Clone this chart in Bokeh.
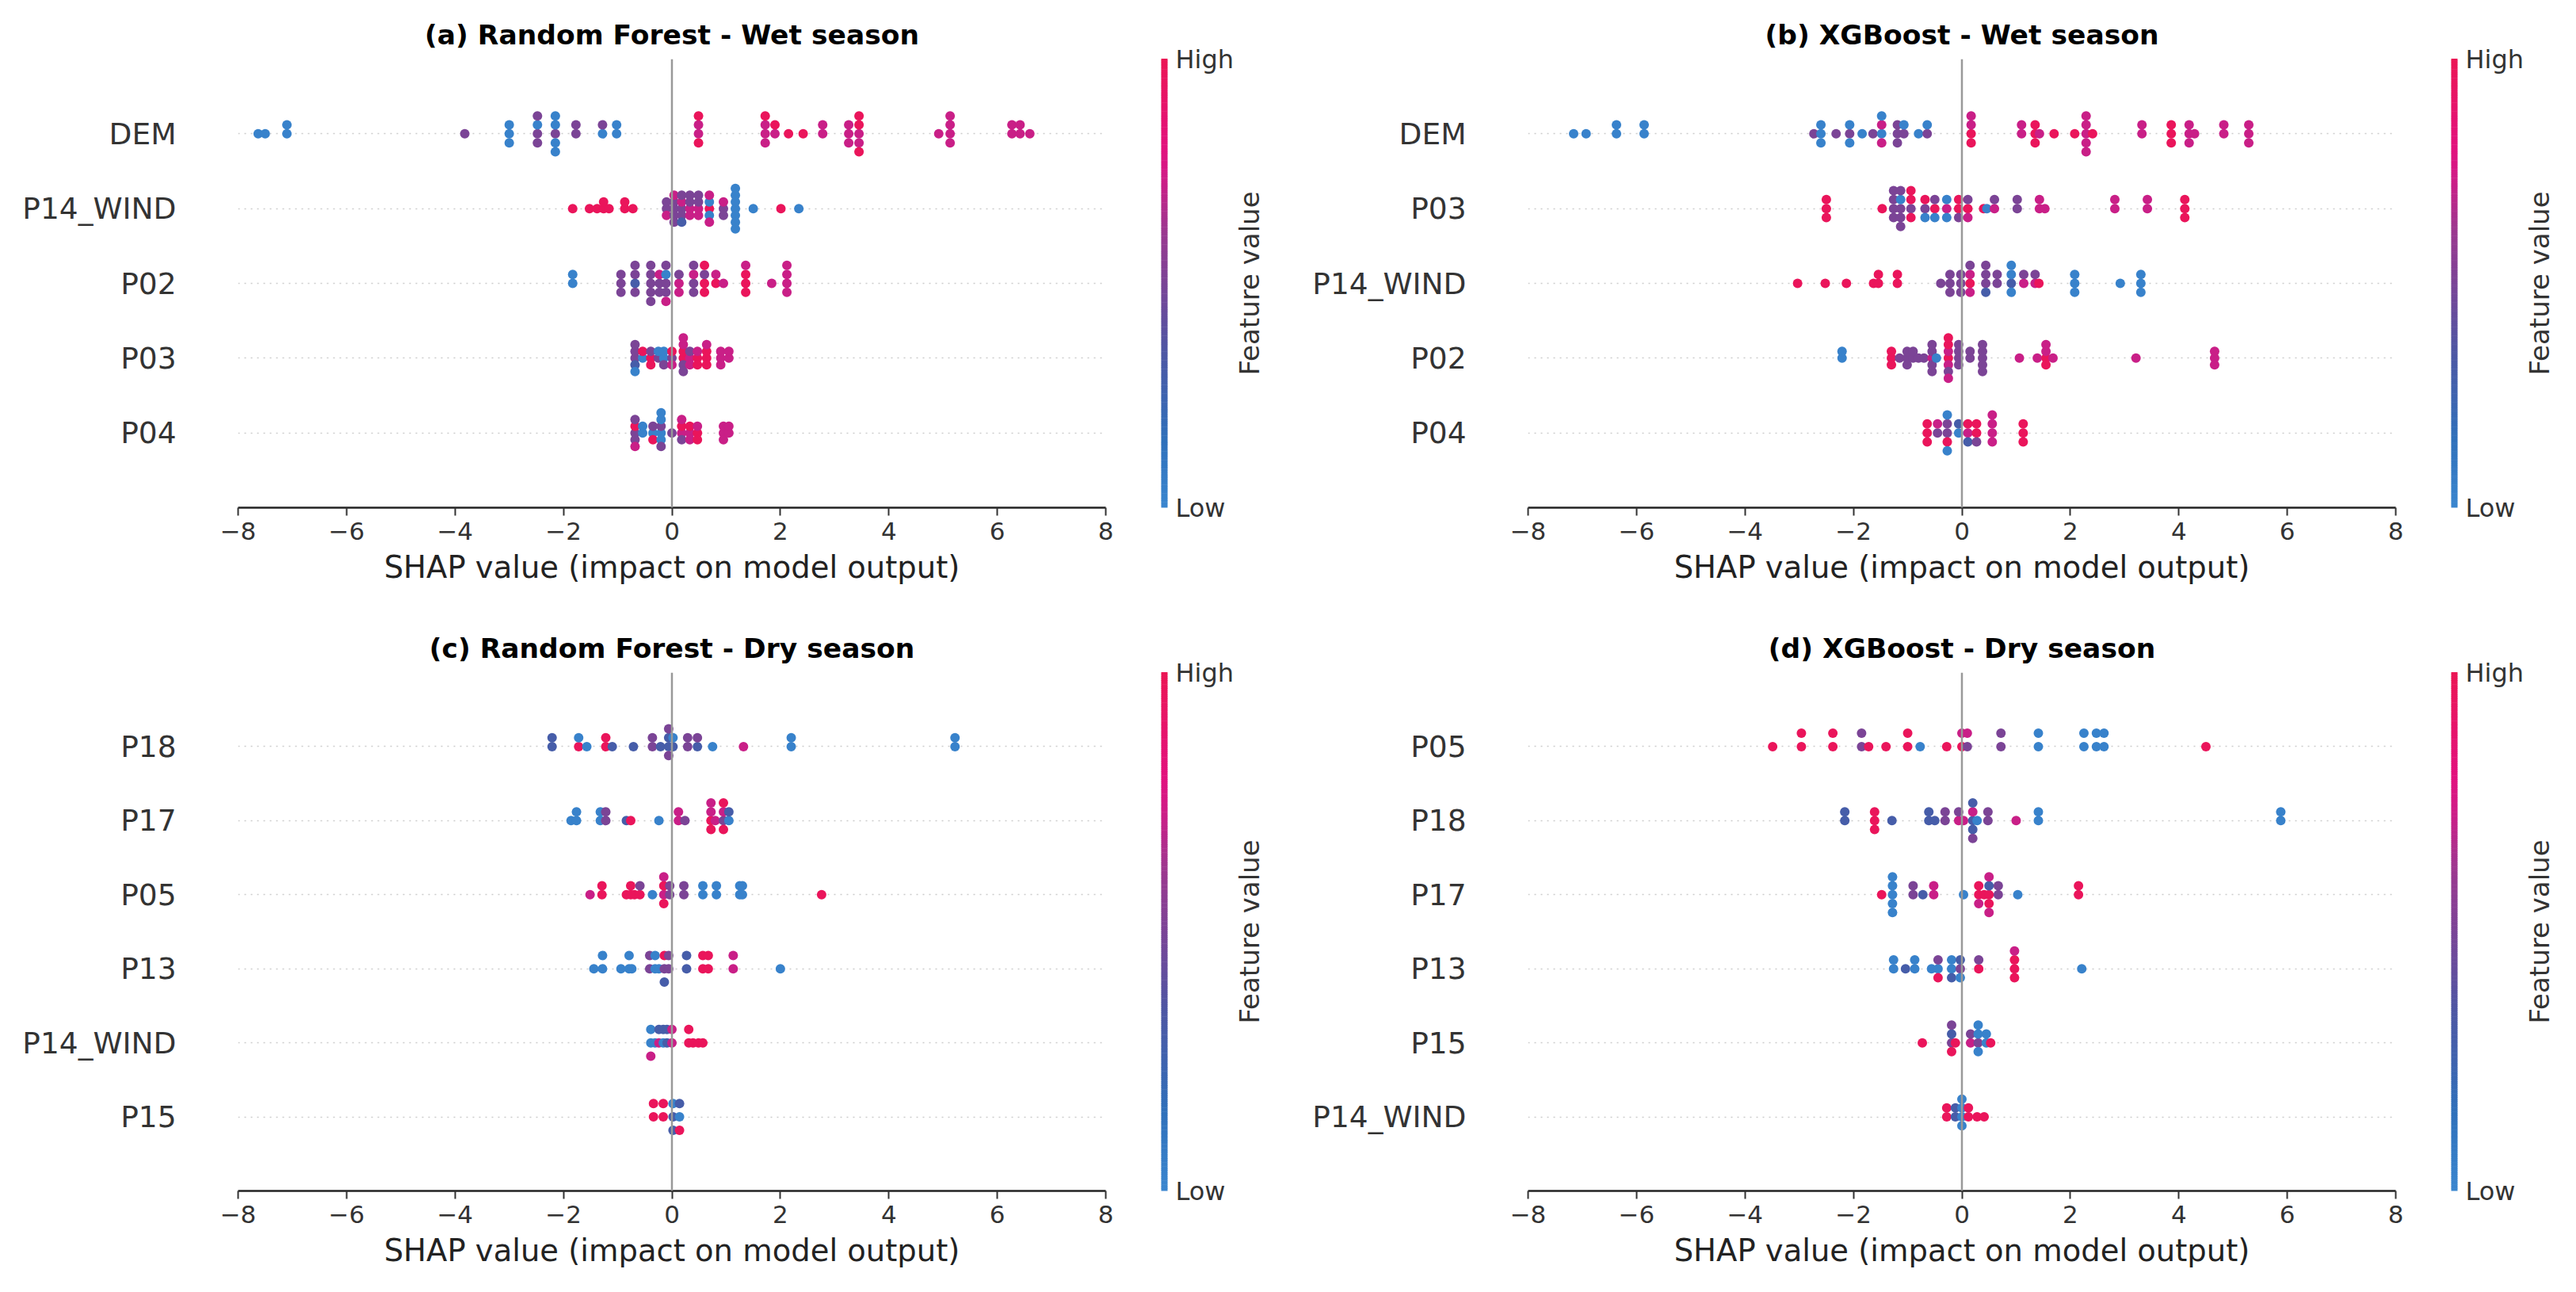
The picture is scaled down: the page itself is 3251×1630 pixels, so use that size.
import math

import numpy as np
from bokeh.core.properties import value
from bokeh.embed import file_html
from bokeh.layouts import column, row
from bokeh.models import ColumnDataSource, FixedTicker, Range1d, Span
from bokeh.plotting import figure
from bokeh.resources import INLINE
from bokeh.transform import linear_cmap

# Normalised feature level (0 = low, 1 = high) for each letter code.
LEVELS = {"B": 0.03, "b": 0.30, "P": 0.50, "M": 0.72, "R": 0.97}

# Each entry: (SHAP value, feature levels of the samples sharing that value).
# ---- (a) Random Forest, wet season ----
RF_WET_FEATURES = ["DEM", "P14_WIND", "P02", "P03", "P04"]
RF_WET_DEM = [(-7.63, "B"), (-7.50, "B"), (-7.10, "BB"), (-3.82, "P"), (-3.00, "BBB"),
              (-2.48, "PBPP"), (-2.15, "PBBBB"), (-1.77, "PP"), (-1.28, "BP"), (-1.02, "BB"),
              (0.49, "MMRR"), (1.72, "MMMR"), (1.90, "MR"), (2.15, "R"), (2.42, "R"),
              (2.78, "MM"), (3.26, "MMM"), (3.45, "MRMRR"), (4.92, "M"), (5.13, "MMMM"),
              (6.27, "MM"), (6.42, "MM"), (6.60, "M")]
RF_WET_P14_WIND = [(-1.83, "R"), (-1.52, "R"), (-1.38, "R"), (-1.26, "RR"), (-1.16, "R"),
                   (-0.87, "RR"), (-0.72, "R"), (-0.10, "PPM"), (0.04, "PPPMP"), (0.18, "PMPPb"),
                   (0.33, "MPMP"), (0.49, "MPMP"), (0.69, "RBBMM"), (0.95, "PMP"),
                   (1.17, "BBBBBBB"), (1.50, "B"), (2.01, "R"), (2.34, "B")]
RF_WET_P02 = [(-1.83, "BB"), (-0.94, "PPP"), (-0.68, "bPPP"), (-0.39, "PPPPP"), (-0.23, "PMP"),
              (-0.11, "PBPPM"), (0.13, "MPM"), (0.40, "PMPP"), (0.60, "RPRR"), (0.81, "RM"),
              (0.95, "M"), (1.36, "RRRM"), (1.84, "M"), (2.12, "MMMM")]
RF_WET_P03 = [(-0.68, "PPbPB"), (-0.54, "BR"), (-0.39, "RPR"), (-0.25, "PB"), (-0.15, "BBP"),
              (0.00, "PRM"), (0.21, "RRPMPM"), (0.33, "MPM"), (0.47, "RMR"), (0.64, "RRRM"),
              (0.90, "MMM"), (1.05, "MM")]
RF_WET_P04 = [(-0.68, "PRPPM"), (-0.54, "BB"), (-0.35, "BPR"), (-0.20, "BPBBPB"), (0.00, "P"),
              (0.18, "MRPM"), (0.33, "MRM"), (0.47, "RMR"), (0.95, "MMM"), (1.05, "MM")]

# ---- (b) XGBoost, wet season ----
XGB_WET_FEATURES = ["DEM", "P03", "P14_WIND", "P02", "P04"]
XGB_WET_DEM = [(-7.16, "B"), (-6.93, "B"), (-6.37, "BB"), (-5.86, "BB"), (-2.73, "P"),
               (-2.60, "BBB"), (-2.32, "P"), (-2.07, "PBB"), (-1.84, "B"), (-1.64, "P"),
               (-1.48, "BMMB"), (-1.19, "PPP"), (-1.07, "PB"), (-0.80, "B"), (-0.64, "PB"),
               (0.17, "RMRM"), (1.10, "MM"), (1.35, "RRR"), (1.43, "M"), (1.70, "R"),
               (2.08, "R"), (2.29, "MMMMM"), (2.41, "R"), (3.32, "MM"), (3.86, "RRR"),
               (4.19, "MMM"), (4.29, "M"), (4.83, "MM"), (5.29, "MMM")]
XGB_WET_P03 = [(-2.50, "RRR"), (-1.47, "R"), (-1.26, "PPPP"), (-1.13, "PBPPP"), (-0.94, "PRRR"),
               (-0.68, "PRB"), (-0.50, "RPB"), (-0.28, "MBB"), (-0.06, "RRP"), (0.11, "RPM"),
               (0.40, "R"), (0.46, "B"), (0.60, "MP"), (1.02, "PP"), (1.43, "MM"), (1.53, "M"),
               (2.82, "MM"), (3.42, "MM"), (4.11, "RRR")]
XGB_WET_P14_WIND = [(-3.03, "R"), (-2.52, "R"), (-2.13, "R"), (-1.63, "R"), (-1.54, "RR"),
                    (-1.19, "RR"), (-0.39, "P"), (-0.22, "PPP"), (-0.02, "PPP"), (0.15, "RMMP"),
                    (0.44, "PPbP"), (0.65, "PP"), (0.91, "bBBB"), (1.14, "MP"), (1.35, "MP"),
                    (1.42, "R"), (2.08, "BBB"), (2.92, "B"), (3.30, "BBB")]
XGB_WET_P02 = [(-2.21, "BB"), (-1.30, "RRR"), (-1.15, "P"), (-1.01, "PPP"), (-0.90, "PP"),
               (-0.80, "P"), (-0.70, "P"), (-0.55, "MPPPP"), (-0.47, "B"), (-0.25, "RMMRPRM"),
               (-0.06, "PPPP"), (0.15, "PP"), (0.38, "PPPPP"), (1.06, "M"), (1.39, "M"),
               (1.55, "RMRM"), (1.68, "M"), (3.21, "M"), (4.66, "MMM")]
XGB_WET_P04 = [(-0.64, "RRR"), (-0.45, "PM"), (-0.27, "PPRBB"), (-0.06, "Bb"), (0.11, "MRb"),
               (0.27, "RRP"), (0.56, "MMMM"), (1.13, "RRR")]

# ---- (c) Random Forest, dry season ----
RF_DRY_FEATURES = ["P18", "P17", "P05", "P13", "P14_WIND", "P15"]
RF_DRY_P18 = [(-2.21, "bb"), (-1.72, "RB"), (-1.57, "B"), (-1.22, "RR"), (-1.10, "b"),
              (-0.71, "b"), (-0.36, "PP"), (-0.21, "b"), (-0.06, "bbPP"), (0.02, "bB"),
              (0.29, "PP"), (0.47, "bP"), (0.75, "B"), (1.32, "M"), (2.20, "BB"), (5.22, "BB")]
RF_DRY_P17 = [(-1.86, "B"), (-1.76, "BB"), (-1.32, "BB"), (-1.22, "PP"), (-0.84, "b"),
              (-0.76, "R"), (-0.24, "B"), (0.12, "MM"), (0.24, "P"), (0.72, "RMRM"),
              (0.80, "M"), (0.95, "PMRR"), (1.05, "Bb")]
RF_DRY_P05 = [(-1.51, "M"), (-1.29, "RR"), (-0.84, "R"), (-0.76, "RR"), (-0.69, "R"),
              (-0.59, "RP"), (-0.36, "B"), (-0.15, "MRRM"), (-0.04, "PP"), (0.22, "PP"),
              (0.57, "BB"), (0.82, "BB"), (1.25, "BB"), (1.30, "BB"), (2.76, "R")]
RF_DRY_P13 = [(-1.44, "B"), (-1.28, "BB"), (-0.94, "B"), (-0.79, "BB"), (-0.74, "B"),
              (-0.41, "PP"), (-0.31, "BB"), (-0.24, "B"), (-0.14, "PRb"), (-0.06, "PP"),
              (0.27, "bb"), (0.57, "RR"), (0.67, "RR"), (1.13, "MM"), (2.00, "B")]
RF_DRY_P14_WIND = [(-0.39, "BBM"), (-0.31, "B"), (-0.24, "Mb"), (-0.16, "Bb"), (-0.09, "bb"),
                   (0.00, "MM"), (0.31, "RR"), (0.39, "R"), (0.49, "R"), (0.57, "R")]
RF_DRY_P15 = [(-0.34, "RR"), (-0.16, "RR"), (0.02, "bBb"), (0.14, "BbR")]

# ---- (d) XGBoost, dry season ----
XGB_DRY_FEATURES = ["P05", "P18", "P17", "P13", "P15", "P14_WIND"]
XGB_DRY_P05 = [(-3.49, "R"), (-2.96, "RR"), (-2.38, "RR"), (-1.85, "PP"), (-1.72, "R"),
               (-1.40, "R"), (-1.00, "RR"), (-0.77, "B"), (-0.28, "R"), (0.00, "RM"),
               (0.10, "PM"), (0.72, "PP"), (1.41, "BB"), (2.25, "BB"), (2.48, "BB"),
               (2.62, "BB"), (4.50, "R")]
XGB_DRY_P18 = [(-2.16, "bb"), (-1.61, "RRR"), (-1.29, "b"), (-0.61, "bb"), (-0.50, "b"),
               (-0.31, "PP"), (-0.06, "MP"), (0.03, "M"), (0.20, "bMbbP"), (0.28, "B"),
               (0.48, "PP"), (1.00, "M"), (1.41, "BB"), (5.88, "BB")]
XGB_DRY_P17 = [(-1.48, "R"), (-1.28, "BBBBB"), (-0.90, "PP"), (-0.72, "b"), (-0.52, "MM"),
               (0.03, "B"), (0.31, "RRM"), (0.41, "R"), (0.50, "RbRMM"), (0.67, "PP"),
               (1.03, "B"), (2.15, "RR")]
XGB_DRY_P13 = [(-1.26, "BB"), (-1.04, "b"), (-0.87, "BB"), (-0.56, "B"), (-0.44, "BPR"),
               (-0.19, "BBb"), (-0.03, "PbB"), (0.31, "RP"), (0.97, "RRRM"), (2.21, "B")]
XGB_DRY_P15 = [(-0.73, "R"), (-0.19, "PbRP"), (-0.12, "R"), (0.16, "MP"), (0.30, "PBBB"),
               (0.45, "BB"), (0.53, "R")]
XGB_DRY_P14_WIND = [(-0.28, "RR"), (-0.12, "bb"), (0.00, "BBBB"), (0.12, "RR"), (0.28, "R"),
                    (0.41, "R")]

X_TICKS = [-8, -6, -4, -2, 0, 2, 4, 6, 8]
COLORBAR_TICKS = ["Low", "High"]
COLORBAR_LABEL = "Feature value"
X_LABEL = "SHAP value (impact on model output)"

FONT = "DejaVu Sans"
AXIS_COLOR = "#333333"
FRAME_W = 1095
LEFT = 300


def build_palette(stops, n=256):
    pos = [s for s, _ in stops]
    rgb = np.array([[int(c[i:i + 2], 16) for i in (1, 3, 5)] for _, c in stops], float)
    t = np.linspace(0.0, 1.0, n)
    cols = np.stack([np.interp(t, pos, rgb[:, k]) for k in range(3)], axis=1)
    return ["#%02x%02x%02x" % tuple(int(round(v)) for v in c) for c in cols]


PALETTE = build_palette([(0.00, "#3a86cf"), (0.15, "#2f70ba"), (0.35, "#4e56a3"),
                         (0.50, "#7a4496"), (0.62, "#9c388f"), (0.74, "#d11b86"),
                         (0.80, "#e2127e"), (1.00, "#eb1655")])


def swarm(entries, pos):
    """Stack samples that share a value above/below the row line, beeswarm style."""
    xs, ys, vs = [], [], []
    for shap, codes in entries:
        for k, c in enumerate(codes):
            xs.append(shap)
            vs.append(LEVELS[c])
            ys.append(math.ceil(k / 2) * (1 if k % 2 else -1))
    ys = np.array(ys, float)
    ys *= 0.9 * (0.4 / np.max(ys + 1))
    return xs, list(pos + ys), vs


def panel(title, features, rows, frame_h, top, bottom):
    n = len(features)
    p = figure(frame_width=FRAME_W, frame_height=frame_h,
               x_range=Range1d(-8, 8), y_range=Range1d(-1, n),
               min_border_left=LEFT, min_border_right=10,
               min_border_top=top, min_border_bottom=bottom,
               output_backend="svg", toolbar_location=None, title=title)
    p.outline_line_color = None
    p.background_fill_color = "white"

    p.title.text_font = FONT
    p.title.text_font_size = "34.5px"
    p.title.text_font_style = "bold"
    p.title.text_color = "black"
    p.title.align = "center"
    p.title.standoff = 22

    # x axis
    p.xaxis.ticker = FixedTicker(ticks=X_TICKS)
    p.xaxis.major_label_overrides = {t: ("\u2212%d" % -t if t < 0 else str(t)) for t in X_TICKS}
    p.xaxis.axis_label = X_LABEL
    p.xaxis.axis_label_text_font = FONT
    p.xaxis.axis_label_text_font_size = "38.5px"
    p.xaxis.axis_label_text_font_style = "normal"
    p.xaxis.axis_label_text_color = "#222222"
    p.xaxis.axis_label_standoff = 9
    p.xaxis.major_label_text_font = FONT
    p.xaxis.major_label_text_font_size = "31px"
    p.xaxis.major_label_text_color = AXIS_COLOR
    p.xaxis.major_label_standoff = 8
    p.xaxis.major_tick_out = 10
    p.xaxis.major_tick_in = 0
    p.xaxis.major_tick_line_width = 2
    p.xaxis.major_tick_line_color = AXIS_COLOR
    p.xaxis.minor_tick_line_color = None
    p.xaxis.axis_line_width = 2.5
    p.xaxis.axis_line_color = "#222222"

    # y axis: feature names, most important on top
    p.yaxis.ticker = FixedTicker(ticks=list(range(n)))
    p.yaxis.major_label_overrides = {i: features[n - 1 - i] for i in range(n)}
    p.yaxis.major_label_text_font = FONT
    p.yaxis.major_label_text_font_size = "37.5px"
    p.yaxis.major_label_text_color = AXIS_COLOR
    p.yaxis.major_label_standoff = 72
    p.yaxis.major_tick_line_color = None
    p.yaxis.minor_tick_line_color = None
    p.yaxis.axis_line_color = None

    p.xgrid.visible = False
    p.ygrid.grid_line_color = "#cccccc"
    p.ygrid.grid_line_width = 1.5
    p.ygrid.grid_line_dash = "2 6"

    xs, ys, vs = [], [], []
    for i, entries in enumerate(rows):
        x, y, v = swarm(entries, n - 1 - i)
        xs += x
        ys += y
        vs += v
    src = ColumnDataSource(dict(x=xs, y=ys, v=vs))
    p.scatter("x", "y", source=src, size=12, line_color=None,
              fill_color=linear_cmap("v", PALETTE, 0, 1))

    p.add_layout(Span(location=0, dimension="height", line_color="#999999", line_width=2.5))
    return p


def colorbar(width, height, frame_h, bottom):
    """Narrow canvas holding the Low→High gradient bar and its labels (pixel coordinates)."""
    c = figure(width=width, height=height, x_range=Range1d(0, width), y_range=Range1d(0, height),
               x_axis_location=None, y_axis_location=None, min_border=0,
               output_backend="svg", toolbar_location=None)
    c.frame_align = False
    c.outline_line_color = None
    c.xgrid.visible = False
    c.ygrid.visible = False

    steps = np.linspace(0.0, 1.0, 257)
    seg = ColumnDataSource(dict(
        b=bottom + steps[:-1] * frame_h,
        t=bottom + steps[1:] * frame_h + 0.6,
        v=(steps[:-1] + steps[1:]) / 2,
    ))
    c.quad(left=60, right=68, bottom="b", top="t", source=seg, line_color=None,
           fill_color=linear_cmap("v", PALETTE, 0, 1))

    c.text(x=[78, 78], y=[bottom, bottom + frame_h], text=COLORBAR_TICKS,
           text_font=value(FONT), text_font_size=value("32px"), text_color=AXIS_COLOR,
           text_align=value("left"), text_baseline=value("middle"))
    c.text(x=[171], y=[bottom + frame_h / 2], text=[COLORBAR_LABEL], angle=math.pi / 2,
           text_font=value(FONT), text_font_size=value("34px"), text_color=AXIS_COLOR,
           text_align=value("center"), text_baseline=value("middle"))
    return c


TOP_H, TOP_FRAME, TOP_TOP, TOP_BOTTOM = 775, 566, 74, 135
BOT_H, BOT_FRAME, BOT_TOP, BOT_BOTTOM = 855, 654, 73, 128
MAIN_W = LEFT + FRAME_W + 10

pa = panel("(a) Random Forest - Wet season", RF_WET_FEATURES,
           [RF_WET_DEM, RF_WET_P14_WIND, RF_WET_P02, RF_WET_P03, RF_WET_P04],
           TOP_FRAME, TOP_TOP, TOP_BOTTOM)
pb = panel("(b) XGBoost - Wet season", XGB_WET_FEATURES,
           [XGB_WET_DEM, XGB_WET_P03, XGB_WET_P14_WIND, XGB_WET_P02, XGB_WET_P04],
           TOP_FRAME, TOP_TOP, TOP_BOTTOM)
pc = panel("(c) Random Forest - Dry season", RF_DRY_FEATURES,
           [RF_DRY_P18, RF_DRY_P17, RF_DRY_P05, RF_DRY_P13, RF_DRY_P14_WIND, RF_DRY_P15],
           BOT_FRAME, BOT_TOP, BOT_BOTTOM)
pd_ = panel("(d) XGBoost - Dry season", XGB_DRY_FEATURES,
            [XGB_DRY_P05, XGB_DRY_P18, XGB_DRY_P17, XGB_DRY_P13, XGB_DRY_P15, XGB_DRY_P14_WIND],
            BOT_FRAME, BOT_TOP, BOT_BOTTOM)

ca = colorbar(1628 - MAIN_W, TOP_H, TOP_FRAME, TOP_BOTTOM)
cb = colorbar(1623 - MAIN_W, TOP_H, TOP_FRAME, TOP_BOTTOM)
cc = colorbar(1628 - MAIN_W, BOT_H, BOT_FRAME, BOT_BOTTOM)
cd = colorbar(1623 - MAIN_W, BOT_H, BOT_FRAME, BOT_BOTTOM)

layout = column(row(pa, ca, pb, cb), row(pc, cc, pd_, cd))
open("out.html", "w").write(file_html(layout, INLINE))
